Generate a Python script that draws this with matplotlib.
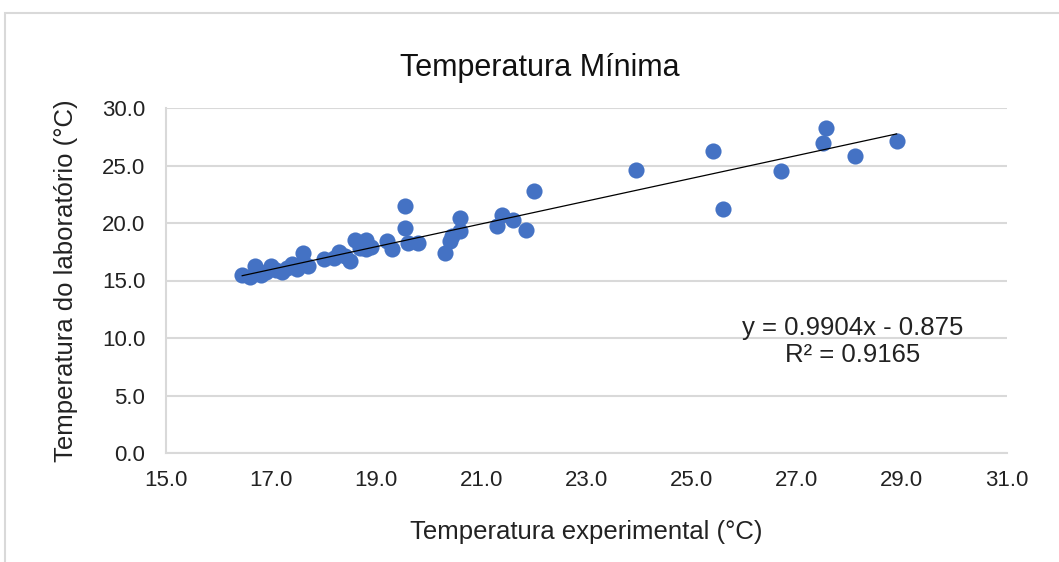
import matplotlib.pyplot as plt
from matplotlib.patches import Rectangle

plt.rcParams['font.family'] = ['Liberation Sans', 'DejaVu Sans']

# temperatura experimental (x) e do laboratorio (y)
temp_exp = [16.45, 16.6, 16.7, 16.8, 16.9, 17.0, 17.1, 17.2, 17.3, 17.4,
            17.5, 17.6, 17.6, 17.7, 18.0, 18.2, 18.3, 18.4, 18.5, 18.6,
            18.7, 18.8, 18.8, 18.9, 19.2, 19.3, 19.55, 19.55, 19.6, 19.8,
            20.3, 20.4, 20.45, 20.6, 20.6, 21.3, 21.4, 21.6, 21.85, 22.0,
            23.95, 25.4, 25.6, 26.7, 27.5, 27.55, 28.1, 28.9]
temp_lab = [15.5, 15.3, 16.3, 15.5, 15.7, 16.3, 15.9, 15.7, 16.1, 16.4,
            16.0, 17.4, 16.6, 16.3, 16.9, 17.0, 17.5, 17.1, 16.7, 18.5,
            17.8, 18.5, 17.7, 17.9, 18.4, 17.7, 21.5, 19.6, 18.3, 18.3,
            17.4, 18.4, 18.9, 20.4, 19.3, 19.7, 20.7, 20.3, 19.4, 22.8,
            24.6, 26.3, 21.2, 24.5, 27.0, 28.3, 25.8, 27.1]

a, b = 0.9904, -0.875
x_ticks = [15, 17, 19, 21, 23, 25, 27, 29, 31]
y_ticks = [0, 5, 10, 15, 20, 25, 30]

fig = plt.figure(figsize=(10.59, 5.62), dpi=100)
ax = fig.add_axes([166/1059, 1-453/562, (1007-166)/1059, (453-108)/562])

ax.scatter(temp_exp, temp_lab, s=135, color='#4472C4', zorder=3, linewidths=0)
xl = [min(temp_exp), max(temp_exp)]
ax.plot(xl, [a*v + b for v in xl], color='black', lw=0.9, zorder=4)

ax.set_xlim(15, 31)
ax.set_ylim(0, 30)
ax.set_xticks(x_ticks)
ax.set_yticks(y_ticks)
ax.set_xticklabels([f'{v:.1f}' for v in x_ticks])
ax.set_yticklabels([f'{v:.1f}' for v in y_ticks])
ax.tick_params(length=0, labelsize=16, labelcolor='#222222')
ax.tick_params(axis='y', pad=15)
ax.tick_params(axis='x', pad=12)
ax.grid(axis='y', color='#D9D9D9', lw=1.5, zorder=0)
for s in ['top', 'right']:
    ax.spines[s].set_visible(False)
for s in ['bottom', 'left']:
    ax.spines[s].set_color('#D9D9D9')
    ax.spines[s].set_linewidth(1.5)

ax.set_xlabel('Temperatura experimental (°C)', fontsize=18.5, color='#222222')
ax.set_ylabel('Temperatura do laboratório (°C)', fontsize=18.5, color='#222222')
ax.xaxis.set_label_coords(0.5, -(532-453)/345, transform=ax.transAxes)
ax.yaxis.set_label_coords(-(166-66)/841, 0.5, transform=ax.transAxes)
ax.xaxis.label.set_va('center')
ax.yaxis.label.set_va('center')

ax.text(28.07, 10.9, 'y = 0.9904x - 0.875', ha='center', va='center', fontsize=18.5, color='#222222')
ax.text(28.07, 8.5, 'R² = 0.9165', ha='center', va='center', fontsize=18.5, color='#222222')

fig.text(540/1059, 1-68/562, 'Temperatura Mínima', ha='center', va='center', fontsize=22, color='#111111')

fig.patches.append(Rectangle((5/1059, -0.1), 1.2, 1-13/562+0.1, transform=fig.transFigure,
                             fill=False, edgecolor='#D9D9D9', lw=1.5))

fig.savefig('out.png', dpi=100)
